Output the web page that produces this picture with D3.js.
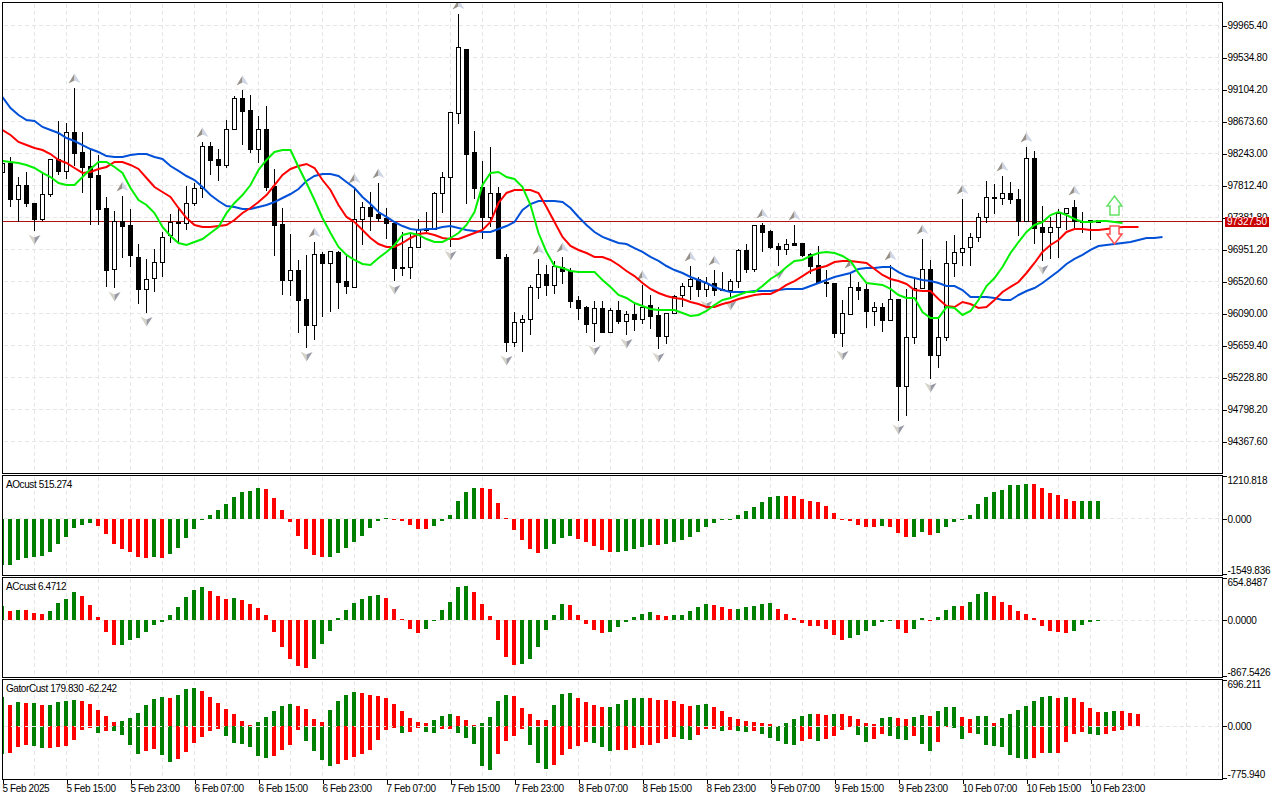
<!DOCTYPE html>
<html>
<head>
<meta charset="utf-8">
<script src="https://cdn.jsdelivr.net/npm/d3@7"></script>
<style>
html, body { margin: 0; padding: 0; background: #fff; }
svg { display: block; }
text { font-family: "Liberation Sans", sans-serif; font-size: 10px; fill: #000; letter-spacing: -0.25px; }
.time-axis text { letter-spacing: -0.38px; }
.caption { letter-spacing: -0.42px; }
.axis path { display: none; }
.axis line { stroke: #000; shape-rendering: crispEdges; }
.grid { stroke: #e6e6e6; stroke-dasharray: 4,3; shape-rendering: crispEdges; }
.frame { fill: none; stroke: #000; shape-rendering: crispEdges; }
</style>
</head>
<body>
<svg id="chart" width="1280" height="800"></svg>
<script>
const opens = [97994,98116,97631,97819,97577,97362,97698,98169,98008,98532,
98263,98075,97954,97510,96689,97335,97281,96851,96420,96567,
96783,97147,97321,97308,97577,97778,98344,98169,98089,98573,
98989,98828,98303,98573,97805,97294,96541,96675,96285,95935,
96891,96770,96918,96527,96447,97362,97523,97429,97375,97308,
96716,96716,96985,97214,97227,97712,97927,98788,99649,98263,
97792,97389,97712,96851,95706,95976,96016,96447,96621,96474,
96716,96662,96272,96177,95962,96164,95841,96137,95989,96083,
96016,96204,96070,95787,96097,96339,96460,96554,96420,96500,
96420,96406,96527,96945,96689,97281,97201,96998,96958,97039,
97039,96891,96743,96514,96500,95828,96083,96447,96420,96124,
96177,96003,96285,95114,95774,96433,96689,95532,95774,96770,
96918,96985,97120,97389,97658,97644,97712,97631,97335,98183,
97254,97187,97254,97442,97523,97335,97321,97348];

const highs = [98156,98196,97927,97994,97577,97994,98169,98681,98654,99124,
98532,98290,98223,97658,97470,97671,97496,97025,96824,96958,
97187,97429,97523,97805,97846,98398,98398,98303,98694,99016,
99097,99030,98748,98882,98035,97510,97160,96810,96878,97052,
96918,96931,96931,96878,97778,97590,97725,97846,97510,97321,
97187,97173,97362,97456,97725,97994,98801,100120,99649,98546,
98142,98330,97792,96891,96110,96070,96474,96824,96743,96797,
96851,96702,96325,96191,96258,96258,96164,96258,96124,96231,
96474,96339,96177,96097,96339,96500,96729,96581,96581,96675,
96648,96554,96958,97025,97281,97308,97214,97039,97092,97281,
97039,96905,96998,96675,96500,96272,96635,96514,96487,96245,
96231,96743,96285,96420,96567,97092,96810,96043,97066,97147,
97631,97173,97442,97873,97832,97940,97859,97765,98330,98277,
97536,97389,97496,97510,97617,97456,97348,97348];

const lows = [97954,97523,97321,97523,97201,97335,97658,97954,97900,98075,
97712,97281,97281,96447,96433,96837,96716,96218,96097,96379,
96581,97039,97052,97214,97536,97644,97954,97873,98048,98573,
98357,98250,98116,97738,96864,96339,96325,95828,95626,95733,
96043,96110,96151,96352,96447,97012,97201,97321,97092,96527,
96594,96554,96985,97187,97227,97442,96985,98640,97563,97631,
97092,97254,96824,95572,95639,95572,95801,96285,96325,96352,
96487,96164,96003,95828,95706,95828,95841,95949,95801,95855,
95949,95882,95612,95679,96083,96177,96272,96312,96312,96325,
96393,96312,96433,96635,96648,96918,96958,96729,96878,97012,
96851,96621,96500,96312,95760,95639,96083,96272,95895,95922,
95841,95989,94643,94711,95679,96420,95209,95357,95720,96581,
96729,96729,97052,97308,97429,97550,97563,97133,97321,97025,
96797,96824,96837,97214,97214,97173,97079,97321];

const closes = [98116,97631,97819,97577,97362,97698,98169,98008,98532,98250,
98062,97927,97496,96675,97335,97267,96878,96420,96554,96783,
97120,97321,97308,97577,97778,98344,98156,98089,98573,98989,
98815,98303,98573,97792,97281,96541,96675,96272,95935,96891,
96770,96931,96514,96460,97362,97523,97402,97375,97308,96702,
96702,96985,97227,97227,97712,97927,98801,99676,98236,97778,
97389,97712,96837,95706,95976,96016,96447,96621,96474,96729,
96662,96258,96164,95949,96164,95841,96137,95989,96083,96016,
96177,96056,95787,96097,96325,96460,96554,96420,96500,96406,
96406,96527,96945,96689,97281,97187,96985,96958,97025,97012,
96878,96729,96514,96500,95828,96097,96447,96406,96124,96177,
96003,96285,95114,95774,96433,96689,95532,95774,96770,96918,
96971,97120,97389,97658,97644,97712,97631,97335,98183,97241,
97187,97254,97442,97510,97335,97321,97348,97327.5];

// alligator lines, read bar by bar
const jaw = [99003,98855,98761,98694,98681,98600,98559,98519,98451,98411,
98357,98303,98263,98209,98196,98196,98223,98236,98236,98196,
98169,98075,98008,97940,97886,97792,97684,97604,97536,97523,
97496,97496,97523,97550,97590,97644,97698,97765,97873,97940,
97967,97967,97940,97859,97778,97658,97563,97456,97389,97321,
97267,97227,97214,97227,97227,97254,97267,97241,97214,97201,
97187,97187,97227,97267,97321,97483,97563,97604,97604,97604,
97590,97510,97389,97281,97187,97120,97079,97039,97025,96971,
96918,96851,96797,96729,96675,96635,96581,96541,96500,96447,
96406,96379,96379,96379,96393,96393,96393,96406,96420,96420,
96420,96460,96500,96541,96581,96608,96635,96689,96702,96702,
96716,96716,96648,96594,96567,96541,96527,96500,96460,96460,
96406,96312,96312,96312,96299,96272,96272,96339,96393,96433,
96500,96581,96662,96756,96824,96878,96945,96998,97012,97025,
97039,97052,97079,97106,97106,97120];

const teeth = [98559,98492,98398,98357,98317,98290,98236,98156,98116,98048,
97981,97994,98035,98062,98129,98129,98089,98035,97913,97792,
97725,97658,97510,97375,97281,97254,97254,97267,97281,97348,
97442,97510,97590,97684,97819,97954,98035,98075,98102,98048,
97886,97752,97550,97389,97321,97214,97106,97025,96985,96985,
97039,97106,97160,97173,97147,97106,97092,97092,97133,97173,
97214,97321,97577,97712,97752,97752,97752,97712,97523,97321,
97120,96998,96945,96904,96851,96851,96810,96743,96662,96594,
96500,96420,96366,96325,96299,96285,96245,96218,96177,96177,
96218,96245,96285,96312,96339,96352,96352,96406,96474,96527,
96594,96662,96702,96729,96783,96797,96797,96783,96770,96689,
96608,96554,96527,96487,96406,96393,96393,96285,96191,96177,
96245,96218,96164,96177,96272,96379,96447,96514,96635,96770,
96918,97012,97079,97187,97227,97227,97214,97214,97227,97241,
97254,97254,97254];

const lips = [98142,98129,98116,98089,98048,97981,97927,97846,97819,97819,
97927,98035,98129,98129,98062,97981,97778,97617,97550,97442,
97254,97133,97039,97012,97052,97092,97173,97254,97442,97577,
97684,97819,98021,98156,98263,98290,98290,98062,97846,97617,
97375,97173,96985,96878,96810,96756,96743,96837,96918,97012,
97147,97173,97147,97092,97052,97052,97106,97173,97281,97456,
97819,97981,97994,97927,97900,97792,97550,97173,96918,96729,
96702,96662,96648,96648,96648,96541,96447,96339,96299,96231,
96191,96151,96137,96137,96137,96097,96056,96070,96124,96204,
96272,96299,96339,96379,96379,96460,96554,96621,96716,96797,
96810,96864,96904,96918,96904,96864,96797,96635,96500,96487,
96474,96420,96339,96299,96299,96110,96030,96030,96177,96164,
96070,96124,96272,96460,96567,96716,96904,97052,97187,97281,
97321,97415,97456,97415,97362,97321,97321,97335,97335,97321,
97308];

const aoValues = [-1305,-1305,-1164,-1108,-1080,-1052,-939,-714,-516,-263,
-160,-122,-207,-432,-714,-854,-939,-1080,-1108,-1080,
-1108,-995,-826,-545,-291,-28,122,263,432,629,
770,798,883,854,601,263,-94,-488,-854,-1023,
-1080,-1077,-967,-826,-657,-488,-263,-66,28,-9,
-66,-178,-291,-293,-207,-66,122,516,770,883,
880,854,460,38,-319,-601,-854,-967,-854,-714,
-545,-488,-573,-657,-770,-883,-939,-936,-911,-854,
-798,-742,-745,-714,-657,-601,-516,-376,-235,-122,
-38,-9,122,235,347,488,629,657,654,652,
573,516,488,376,178,-9,-66,-160,-235,-236,
-207,-235,-404,-516,-513,-376,-460,-404,-235,-94,
-38,122,432,629,770,826,967,970,995,992,
883,742,685,573,505,508,512,515];

const acValues = [218,140,155,154,109,93,140,264,326,435,
373,233,47,-186,-388,-387,-311,-280,-186,-78,
-31,78,202,357,466,513,451,373,326,342,
311,249,186,78,-186,-420,-606,-715,-746,-606,
-373,-171,31,155,264,326,373,389,342,171,
16,-140,-202,-140,-16,155,280,513,528,435,
249,62,-311,-575,-699,-684,-606,-420,-155,78,
249,233,78,-62,-155,-202,-186,-109,-31,47,
93,124,78,62,78,79,140,202,249,233,
202,171,172,202,218,249,264,171,93,31,
-47,-93,-94,-140,-233,-306,-275,-228,-166,-88,
-26,-10,-135,-197,-135,36,-10,52,161,223,
222,285,409,440,378,285,238,145,98,36,
-88,-166,-181,-197,-166,-73,-26,6.47];

const gatorUp = [435,320,365,350,350,320,321,365,380,395,
380,335,245,155,65,80,125,200,320,410,
440,425,470,560,575,530,440,350,260,185,
80,20,65,140,230,305,335,305,260,110,
65,245,380,470,515,500,470,455,425,335,
230,125,65,50,95,155,185,155,95,20,
50,140,380,470,455,275,185,95,93,320,
485,500,425,365,320,290,291,335,395,425,
426,424,395,393,380,335,305,320,335,290,
230,140,110,80,65,50,35,5,50,110,
155,185,183,170,185,184,155,110,50,35,
125,140,125,110,140,170,155,230,290,291,
140,110,155,156,50,125,185,245,305,380,
440,455,425,440,425,365,275,215,216,230,
228,200,180];

const gatorDown = [-415,-413,-310,-280,-295,-325,-323,-310,-295,-205,
-55,-25,-100,-70,-71,-130,-280,-415,-370,-340,
-430,-535,-490,-385,-250,-160,-70,-40,-145,-250,
-265,-310,-445,-475,-445,-355,-280,-55,-220,-370,
-505,-595,-565,-505,-460,-415,-355,-205,-55,-25,
-100,-85,-25,-85,-100,-40,-38,-100,-175,-265,
-595,-655,-415,-220,-145,-40,-280,-550,-640,-580,
-430,-340,-295,-235,-250,-310,-370,-368,-355,-330,
-280,-278,-250,-190,-160,-190,-205,-130,-40,-38,
-70,-55,-70,-85,-70,-115,-175,-220,-265,-280,
-220,-190,-220,-190,-145,-55,-10,-130,-235,-190,
-115,-145,-190,-205,-145,-265,-370,-235,-5,-25,
-190,-100,-115,-280,-295,-310,-430,-475,-490,-488,
-400,-401,-399,-235,-115,-85,-115,-130,-115,-70,
-62];

// bars that carry a fractal arrow
const fractalUp = [9,15,25,30,39,44,47,57,67,70,80,86,89,95,99,106,111,115,120,125,128,134];
const fractalDown = [4,14,18,38,49,56,63,74,78,82,88,91,97,105,112,116,130];

const timeLabels = ['5 Feb 2025','5 Feb 15:00','5 Feb 23:00','6 Feb 07:00','6 Feb 15:00','6 Feb 23:00',
    '7 Feb 07:00','7 Feb 15:00','7 Feb 23:00','8 Feb 07:00','8 Feb 15:00','8 Feb 23:00',
    '9 Feb 07:00','9 Feb 15:00','9 Feb 23:00','10 Feb 07:00','10 Feb 15:00','10 Feb 23:00'];
const priceTicks = [99965.40,99534.80,99104.20,98673.60,98243.00,97812.40,97381.80,
    96951.20,96520.60,96090.00,95659.40,95228.80,94798.20,94367.60];
const aoTicks = [1210.818,0,-1549.836];
const acTicks = [654.8487,0,-867.5426];
const gatorTicks = [696.211,0,-775.940];

const lastPrice = 97327.50;
const signalBar = 139;
const signalUpPrice = 97671;
const signalDownPrice = 97025;

const svg = d3.select("#chart");
const left = 2.5, right = 1222.5;

const x = d3.scaleLinear().domain([0, 152]).range([2.5, 1218.5]);
const yPrice = d3.scaleLinear().domain([99965.4, 94367.6]).range([25.5, 441.5]);
const yAo = d3.scaleLinear().domain([1210.818, -1549.836]).range([476, 574]);
const yAc = d3.scaleLinear().domain([654.8487, -867.5426]).range([578, 676]);
const yGator = d3.scaleLinear().domain([696.211, -775.94]).range([680, 778]);

const snap = v => Math.round(v) + 0.5;

const panels = [
    { id: "main", top: 2.5, bottom: 473.5 },
    { id: "ao", top: 475.5, bottom: 575.5 },
    { id: "ac", top: 577.5, bottom: 677.5 },
    { id: "gator", top: 679.5, bottom: 779.5 }
];

const defs = svg.append("defs");
panels.forEach(p => {
    defs.append("clipPath").attr("id", "clip-" + p.id).append("rect")
        .attr("x", left + 0.5).attr("y", p.top + 0.5)
        .attr("width", right - left - 1).attr("height", p.bottom - p.top - 1);
});

// vertical grid in every panel
const gridBars = d3.range(4, 153, 4);
panels.forEach(p => {
    svg.append("g").selectAll("line").data(gridBars).enter().append("line")
        .attr("class", "grid")
        .attr("x1", d => x(d)).attr("x2", d => x(d))
        .attr("y1", p.top + 1).attr("y2", p.bottom);
});

// horizontal grid, main panel
svg.append("g").selectAll("line").data(priceTicks).enter().append("line")
    .attr("class", "grid")
    .attr("x1", left + 1).attr("x2", right)
    .attr("y1", d => yPrice(d)).attr("y2", d => yPrice(d));

// Main panel
const main = svg.append("g").attr("clip-path", "url(#clip-main)");

main.append("line")
    .attr("x1", left).attr("x2", right)
    .attr("y1", Math.floor(yPrice(lastPrice)) + 0.5).attr("y2", Math.floor(yPrice(lastPrice)) + 0.5)
    .attr("stroke", "#b01010")
    .attr("shape-rendering", "crispEdges");

const candles = main.append("g").attr("shape-rendering", "crispEdges");
candles.selectAll("line").data(opens).enter().append("line")
    .attr("x1", (d, i) => x(i)).attr("x2", (d, i) => x(i))
    .attr("y1", (d, i) => yPrice(highs[i])).attr("y2", (d, i) => yPrice(lows[i]))
    .attr("stroke", "#000");
candles.selectAll("rect").data(opens).enter().append("rect")
    .attr("x", (d, i) => x(i) - 2)
    .attr("width", 4)
    .attr("y", (d, i) => snap(yPrice(Math.max(d, closes[i]))))
    .attr("height", (d, i) => Math.max(1, Math.round(Math.abs(yPrice(d) - yPrice(closes[i])))))
    .attr("fill", (d, i) => closes[i] >= d ? "#fff" : "#000")
    .attr("stroke", "#000");

// fractal arrows
const fractals = main.append("g");
const upArrow = fractals.selectAll(".up").data(fractalUp).enter().append("g")
    .attr("class", "up")
    .attr("transform", d => `translate(${x(d)},${yPrice(highs[d]) - 9})`);
upArrow.append("path").attr("d", "M0,-5.5L-6,4.5L0,1.5Z").attr("fill", "#97918a");
upArrow.append("path").attr("d", "M0,-5.5L6,4L0,1.5Z").attr("fill", "#cfd6e6");
const downArrow = fractals.selectAll(".down").data(fractalDown).enter().append("g")
    .attr("class", "down")
    .attr("transform", d => `translate(${x(d)},${yPrice(lows[d]) + 8})`);
downArrow.append("path").attr("d", "M0,5.5L-6,-4.5L0,-1.5Z").attr("fill", "#d7d3c8");
downArrow.append("path").attr("d", "M0,5.5L6,-4L0,-1.5Z").attr("fill", "#9a9aa6");

// alligator
const priceLine = d3.line().x((d, i) => x(i)).y(d => yPrice(d));
[[jaw, "#0050d8"], [teeth, "#ff0000"], [lips, "#00f000"]].forEach(([values, color]) => {
    main.append("path").datum(values)
        .attr("d", priceLine)
        .attr("fill", "none")
        .attr("stroke", color)
        .attr("stroke-width", 2);
});

// signal arrows
main.append("path")
    .attr("transform", `translate(${x(signalBar)},${yPrice(signalUpPrice)})`)
    .attr("d", "M0,0L7.5,10L4.5,10L4.5,19L-4.5,19L-4.5,10L-7.5,10Z")
    .attr("fill", "#fff").attr("stroke", "#66e066").attr("stroke-width", 1.5);
main.append("path")
    .attr("transform", `translate(${x(signalBar)},${yPrice(signalDownPrice)})`)
    .attr("d", "M0,0L7.5,-10L4.5,-10L4.5,-18L-4.5,-18L-4.5,-10L-7.5,-10Z")
    .attr("fill", "#fff").attr("stroke", "#ff5050").attr("stroke-width", 1.5);

// Histogram panels
function bars(panelId, yScale, values, sign) {
    const g = svg.append("g")
        .attr("clip-path", "url(#clip-" + panelId + ")")
        .attr("shape-rendering", "crispEdges");
    g.selectAll("rect").data(values).enter().append("rect")
        .attr("x", (d, i) => x(i) - 2.5)
        .attr("width", 4)
        .attr("y", d => Math.round(Math.min(yScale(0), yScale(d))))
        .attr("height", d => Math.max(1, Math.round(Math.abs(yScale(d) - yScale(0)))))
        .attr("fill", (d, i) => i === 0 || sign * d >= sign * values[i - 1] ? "#008000" : "#ff0000");
}

function zeroLine(yScale) {
    svg.append("line")
        .attr("class", "grid")
        .attr("x1", left + 1).attr("x2", right)
        .attr("y1", Math.floor(yScale(0)) + 0.5).attr("y2", Math.floor(yScale(0)) + 0.5);
}

zeroLine(yAo);
zeroLine(yAc);
bars("ao", yAo, aoValues, 1);
bars("ac", yAc, acValues, 1);
bars("gator", yGator, gatorUp, 1);
bars("gator", yGator, gatorDown, -1);
zeroLine(yGator);

// frames
svg.append("g").selectAll("rect").data(panels).enter().append("rect")
    .attr("class", "frame")
    .attr("x", left).attr("y", d => d.top)
    .attr("width", right - left).attr("height", d => d.bottom - d.top);

// right axes
svg.append("g").attr("class", "axis")
    .attr("transform", `translate(${right},0)`)
    .call(d3.axisRight(yPrice).tickValues(priceTicks).tickFormat(d => d.toFixed(2)).tickSize(4).tickPadding(1));

function sideAxis(yScale, ticks, digits) {
    const g = svg.append("g").attr("class", "axis")
        .attr("transform", `translate(${right},0)`)
        .call(d3.axisRight(yScale).tickValues(ticks).tickFormat(d => d.toFixed(digits)).tickSize(4).tickPadding(1));
    g.selectAll("text").attr("dy", (d, i) => i === 0 ? "0.75em" : i === 2 ? "-0.1em" : "0.32em");
}
sideAxis(yAo, aoTicks, 3);
sideAxis(yAc, acTicks, 4);
sideAxis(yGator, gatorTicks, 3);

// time axis
const timeAxis = svg.append("g").attr("class", "axis time-axis")
    .attr("transform", "translate(0,779.5)")
    .call(d3.axisBottom(x)
        .tickValues(timeLabels.map((d, i) => i * 8))
        .tickFormat((d, i) => timeLabels[i])
        .tickSize(4).tickPadding(1));
timeAxis.selectAll("text").attr("text-anchor", "start").attr("dx", "-0.5");

// last price label
svg.append("rect")
    .attr("x", 1225).attr("y", Math.floor(yPrice(lastPrice)) - 4)
    .attr("width", 44).attr("height", 10)
    .attr("fill", "#c80000");
svg.append("text")
    .attr("x", 1227).attr("y", yPrice(lastPrice)).attr("dy", "0.36em")
    .style("fill", "#fff")
    .text(lastPrice.toFixed(2));

// panel captions
[["AOcust 515.274", 484], ["ACcust 6.4712", 586.5], ["GatorCust 179.830 -62.242", 688.5]].forEach(([label, yPos]) => {
    svg.append("text")
        .attr("class", "caption")
        .attr("x", 6).attr("y", yPos).attr("dy", "0.35em")
        .text(label);
});
</script>
</body>
</html>
